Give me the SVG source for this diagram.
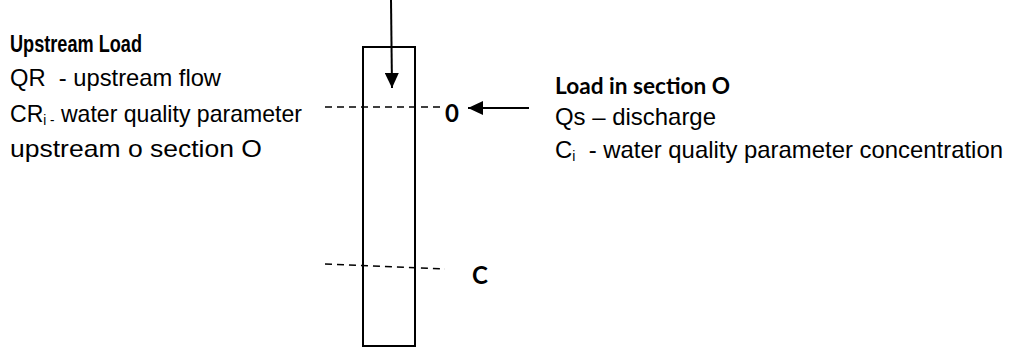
<svg xmlns="http://www.w3.org/2000/svg" width="1009" height="347" viewBox="0 0 1009 347">
<style>
.t{font-family:"Liberation Sans",Arial,sans-serif;font-size:24px;fill:#000}
.b{font-weight:bold;font-size:23px}
.k{font-family:Lato,"Open Sans",sans-serif;font-weight:bold;font-size:24px;fill:#000}
.sub{font-size:14px}
.ln{stroke:#000;stroke-width:2;fill:none}
.dash{stroke:#000;stroke-width:1.6;stroke-dasharray:7 5;fill:none}
</style>
<defs>
<marker id="ah" viewBox="0 0 15 14" refX="15" refY="7" markerWidth="15" markerHeight="14" orient="auto" markerUnits="userSpaceOnUse">
<path d="M0,0 L15,7 L0,14 Z" fill="#000"/>
</marker>
</defs>
<rect width="1009" height="347" fill="#fff"/>
<g id="channel">
<rect x="363" y="47" width="52" height="299" class="ln"/>
</g>
<g id="connectors">
<line x1="391" y1="0" x2="392" y2="88" class="ln" marker-end="url(#ah)"/>
<line x1="529" y1="108" x2="468" y2="108" class="ln" marker-end="url(#ah)"/>
<line x1="325" y1="107" x2="445" y2="107" class="dash"/>
<line x1="325" y1="264" x2="445" y2="269" class="dash"/>
</g>
<g id="label-O"><text x="445" y="122" class="k">0</text></g>
<g id="label-C"><text x="472" y="284" class="k">C</text></g>
<g id="upstream-load">
<text x="10" y="52" class="t b" textLength="132" lengthAdjust="spacingAndGlyphs">Upstream Load</text>
<text x="10" y="86" class="t" textLength="211" lengthAdjust="spacingAndGlyphs" xml:space="preserve">QR  - upstream flow</text>
<text x="10" y="122" class="t" textLength="292" lengthAdjust="spacingAndGlyphs">CR<tspan class="sub" dy="3">i -</tspan><tspan dy="-3"> water quality parameter</tspan></text>
<text x="10" y="157" class="t" textLength="252" lengthAdjust="spacingAndGlyphs">upstream o section O</text>
</g>
<g id="section-load">
<text x="555" y="94" class="k" style="font-size:23px" textLength="175" lengthAdjust="spacingAndGlyphs">Load in section O</text>
<text x="555" y="125" class="t" textLength="161" lengthAdjust="spacingAndGlyphs">Qs – discharge</text>
<text x="555" y="158" class="t" textLength="448" lengthAdjust="spacingAndGlyphs" xml:space="preserve">C<tspan class="sub" dy="3">i</tspan><tspan dy="-3">  - water quality parameter concentration</tspan></text>
</g>
</svg>
